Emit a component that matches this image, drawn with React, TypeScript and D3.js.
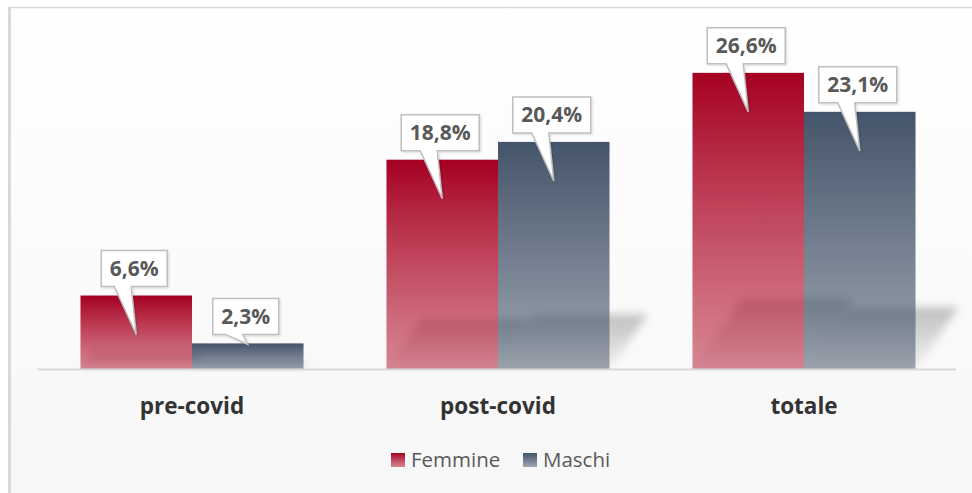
import React, { useEffect, useRef } from 'react';
import * as d3 from 'd3';

// dati del grafico
const categories = ['pre-covid', 'post-covid', 'totale'];
const seriesNames = ['Femmine', 'Maschi'];
const femmine = [6.6, 18.8, 26.6];
const maschi = [2.3, 20.4, 23.1];
const yMax = 30;

const seriesColors: Record<string, [string, string]> = {
  Femmine: ['#a50021', '#c0394f'],
  Maschi: ['#44546a', '#44546a'],
};

const fmt = (v: number) => v.toFixed(1).replace('.', ',') + '%';

const App = () => {
  const svgRef = useRef<SVGSVGElement>(null);

  useEffect(() => {
    const width = 972;
    const height = 493;
    const svg = d3.select(svgRef.current).attr('width', width).attr('height', height);
    svg.selectAll('*').remove();

    const defs = svg.append('defs');
    seriesNames.forEach(s => {
      const g = defs.append('linearGradient').attr('id', 'grad-' + s)
        .attr('x1', 0).attr('y1', 0).attr('x2', 0).attr('y2', 1);
      g.append('stop').attr('offset', '0%').attr('stop-color', seriesColors[s][0]).attr('stop-opacity', 1);
      g.append('stop').attr('offset', '100%').attr('stop-color', seriesColors[s][1]).attr('stop-opacity', s === 'Femmine' ? 0.6 : 0.5);
    });
    const sg = defs.append('linearGradient').attr('id', 'shadow-grad')
      .attr('x1', 0).attr('y1', 0).attr('x2', 0).attr('y2', 1);
    sg.append('stop').attr('offset', '0%').attr('stop-color', '#000').attr('stop-opacity', 0.24);
    sg.append('stop').attr('offset', '100%').attr('stop-color', '#000').attr('stop-opacity', 0.03);
    defs.append('filter').attr('id', 'blur').attr('x', '-50%').attr('y', '-50%').attr('width', '200%').attr('height', '200%')
      .append('feGaussianBlur').attr('stdDeviation', 4);
    const bg = defs.append('linearGradient').attr('id', 'bg-grad')
      .attr('x1', 0).attr('y1', 0).attr('x2', 0).attr('y2', 1);
    bg.append('stop').attr('offset', '0%').attr('stop-color', '#ffffff');
    bg.append('stop').attr('offset', '100%').attr('stop-color', '#f7f7f7');
    const cs = defs.append('filter').attr('id', 'callout-shadow').attr('x', '-20%').attr('y', '-20%').attr('width', '140%').attr('height', '140%');
    cs.append('feDropShadow').attr('dx', 1).attr('dy', 1).attr('stdDeviation', 1).attr('flood-color', '#000').attr('flood-opacity', 0.15);

    // sfondo e bordo
    svg.append('rect').attr('x', 8).attr('y', 7).attr('width', width - 8).attr('height', height - 7).attr('fill', 'url(#bg-grad)');
    svg.append('line').attr('x1', 9.5).attr('x2', 9.5).attr('y1', 7).attr('y2', height).attr('stroke', '#d9d9d9').attr('stroke-width', 3);
    svg.append('line').attr('x1', 8).attr('x2', width).attr('y1', 7.5).attr('y2', 7.5).attr('stroke', '#d9d9d9').attr('stroke-width', 1.5);

    const x0 = d3.scaleBand().domain(categories).range([39, 957]);
    const x1 = d3.scaleBand().domain(seriesNames).range([0, x0.bandwidth()]).paddingOuter(0.372);
    const y = d3.scaleLinear().domain([0, yMax]).range([369, 35]);

    const bars = categories.flatMap((c, i) => [
      { cat: c, s: 'Femmine', v: femmine[i] },
      { cat: c, s: 'Maschi', v: maschi[i] },
    ]);
    const bx = (d: any) => (x0(d.cat) as number) + (x1(d.s) as number);
    const bw = x1.bandwidth();

    // ombre prospettiche
    svg.append('g').selectAll('polygon').data(bars).enter().append('polygon')
      .attr('points', d => {
        const h = y(0) - y(d.v);
        const sh = h * 0.24;
        const sx = sh * 0.7;
        const a = bx(d), b = a + bw, base = y(0);
        return `${a},${base} ${b},${base} ${b + sx},${base - sh} ${a + sx},${base - sh}`;
      })
      .attr('fill', 'url(#shadow-grad)')
      .attr('filter', 'url(#blur)');

    // barre
    svg.append('g').selectAll('rect').data(bars).enter().append('rect')
      .attr('x', d => bx(d))
      .attr('y', d => y(d.v))
      .attr('width', bw)
      .attr('height', d => y(0) - y(d.v))
      .attr('fill', d => `url(#grad-${d.s})`);

    // asse
    svg.append('line').attr('x1', 38).attr('x2', 956).attr('y1', y(0) + 0.5).attr('y2', y(0) + 0.5)
      .attr('stroke', '#d9d9d9').attr('stroke-width', 2);

    // etichette a fumetto
    const lab = svg.append('g');
    bars.forEach(d => {
      const cx = bx(d) + bw / 2;
      const top = y(d.v);
      const h = y(0) - top;
      const tipY = top + (h > 50 ? 39 : 1);
      const t = lab.append('text')
        .attr('text-anchor', 'middle')
        .attr('font-family', '"Open Sans", sans-serif')
        .attr('font-weight', 700)
        .attr('font-size', 21)
        .attr('fill', '#595959')
        .text(fmt(d.v));
      const tw = (t.node() as SVGTextElement).getComputedTextLength();
      const boxW = tw + 17;
      const boxH = 36;
      const bcx = cx - 2;
      const bottom = top - 9;
      const left = bcx - boxW / 2, right = bcx + boxW / 2, btop = bottom - boxH;
      const p1 = Math.max(cx - 22, left + 4);
      const p2 = cx - 5;
      lab.insert('path', 'text')
        .attr('d', `M${left},${btop} H${right} V${bottom} H${p2} L${cx},${tipY} L${p1},${bottom} H${left} Z`)
        .attr('fill', '#fff')
        .attr('stroke', '#bfbfbf')
        .attr('stroke-width', 1.5)
        .attr('filter', 'url(#callout-shadow)');
      t.attr('x', bcx).attr('y', btop + 25.5).raise();
    });

    // etichette categorie
    svg.append('g').selectAll('text').data(categories).enter().append('text')
      .attr('x', d => (x0(d) as number) + x0.bandwidth() / 2)
      .attr('y', 414)
      .attr('text-anchor', 'middle')
      .attr('font-family', '"Open Sans", sans-serif')
      .attr('font-weight', 700)
      .attr('font-size', 22.5)
      .attr('fill', '#333')
      .text(d => d);

    // legenda
    const legX = [391, 523];
    const leg = svg.append('g');
    seriesNames.forEach((s, i) => {
      leg.append('rect').attr('x', legX[i]).attr('y', 453).attr('width', 14).attr('height', 14)
        .attr('fill', `url(#grad-${s})`);
      leg.append('text').attr('x', legX[i] + 20).attr('y', 467)
        .attr('font-family', '"Open Sans", sans-serif')
        .attr('font-size', 20.5)
        .attr('fill', '#595959')
        .text(s);
    });
  }, []);

  return (
    <div style={{ position: 'fixed', left: 0, top: 0 }}>
      <svg ref={svgRef}></svg>
    </div>
  );
};

export default App;
